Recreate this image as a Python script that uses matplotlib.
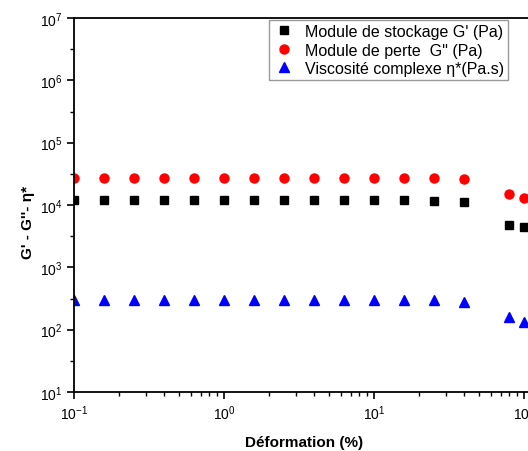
import matplotlib
matplotlib.use("Agg")
import matplotlib.pyplot as plt
from matplotlib.ticker import LogLocator, NullFormatter

plt.rcParams['font.family'] = ['Liberation Sans', 'DejaVu Sans']
plt.rcParams['mathtext.fontset'] = 'custom'
plt.rcParams['mathtext.rm'] = 'Liberation Sans:bold'
plt.rcParams['mathtext.bf'] = 'Liberation Sans:bold'
plt.rcParams['mathtext.default'] = 'bf'

# strain (%)
deformation = [0.1, 0.158, 0.251, 0.398, 0.631, 1.0, 1.585, 2.51, 3.98, 6.31,
               10.0, 15.85, 25.1, 39.8, 79.4, 100.0]
# storage modulus G' (Pa)
g_prime = [12000, 12000, 12000, 12000, 12000, 12000, 12100, 12100, 12000, 12000,
           12000, 12000, 11800, 11200, 4800, 4500]
# loss modulus G'' (Pa)
g_second = [27000, 27000, 27000, 27000, 27000, 27000, 27000, 27000, 27000, 27000,
            27000, 27000, 27000, 26000, 15000, 13000]
# complex viscosity eta* (Pa.s)
eta = [298, 298, 298, 298, 298, 298, 300, 300, 300, 298,
       300, 300, 298, 283, 160, 132]

fig = plt.figure(figsize=(5.28, 4.52), dpi=100)
# axes runs past the right edge of the figure, like the cropped original
ax = fig.add_axes([74/528, 1 - 393/452, 600/528, 374/452])

ax.plot(deformation, g_prime, 's', color='black', ms=5.5, ls='none',
        label="Module de stockage G' (Pa)")
ax.plot(deformation, g_second, 'o', color='red', ms=6.5, ls='none',
        label='Module de perte  G" (Pa)')
ax.plot(deformation, eta, '^', color='blue', ms=6.5, ls='none',
        label='Viscosité complexe η*(Pa.s)')

ax.set_xscale('log')
ax.set_yscale('log')
ax.set_xlim(0.1, 1000)
ax.set_ylim(10, 1e7)

ax.yaxis.set_minor_locator(LogLocator(base=10, subs=[10 ** 0.5]))
ax.yaxis.set_minor_formatter(NullFormatter())
ax.xaxis.set_minor_locator(LogLocator(base=10, subs=range(2, 10)))
ax.xaxis.set_minor_formatter(NullFormatter())

ax.tick_params(which='major', direction='out', length=5, width=1.2,
               labelsize=10, top=False, right=False)
ax.tick_params(which='minor', direction='out', length=3, width=1.0,
               top=False, right=False)
for s in ax.spines.values():
    s.set_linewidth(1.3)

ax.set_xlabel('Déformation (%)', fontsize=11, fontweight='bold')
ax.xaxis.set_label_coords((304 - 74) / 600, -(436 - 393) / 374)
ax.set_ylabel("G' - G''- η*", fontsize=11, fontweight='bold')
ax.yaxis.set_label_coords(-(74 - 35) / 600, (393 - 222) / 374)

leg = ax.legend(loc='upper right', bbox_to_anchor=(508/528, 1 - 21/452),
                bbox_transform=fig.transFigure, borderaxespad=0,
                fontsize=11.5, fancybox=False, edgecolor='gray',
                handletextpad=0.6, borderpad=0.25, labelspacing=0.22,
                handlelength=1.4)
leg.get_frame().set_linewidth(1.0)

fig.savefig('out.png', dpi=100)
